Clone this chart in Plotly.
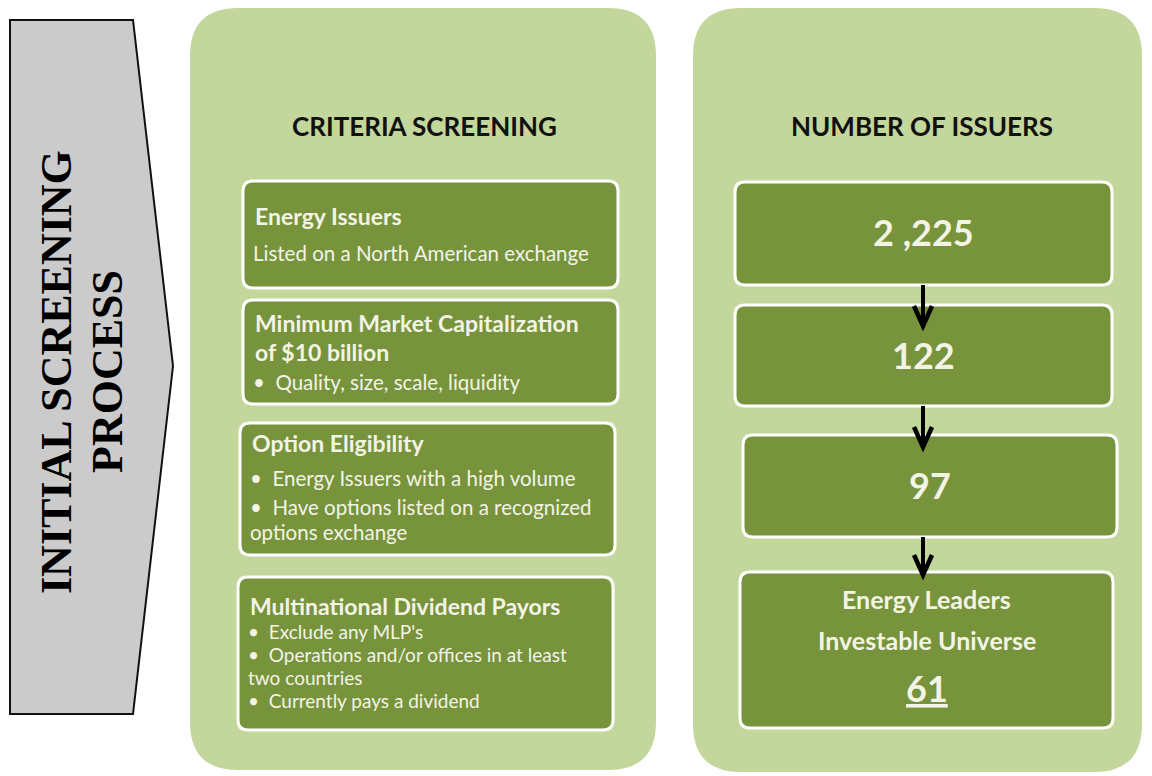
import plotly.graph_objects as go

# --- content -------------------------------------------------------------
side_title = ["INITIAL SCREENING", "PROCESS"]
panel_titles = ["CRITERIA SCREENING", "NUMBER OF ISSUERS"]

criteria_headings = [
    ["Energy Issuers"],
    ["Minimum Market Capitalization", "of $10 billion"],
    ["Option Eligibility"],
    ["Multinational Dividend Payors"],
]
criteria_details = [
    ["Listed on a North American exchange"],
    ["\u2022  Quality, size, scale, liquidity"],
    ["\u2022  Energy Issuers with a high volume",
     "\u2022  Have options listed on a recognized",
     "options exchange"],
    ["\u2022  Exclude any MLP's",
     "\u2022  Operations and/or offices in at least",
     "two countries",
     "\u2022  Currently pays a dividend"],
]
issuer_counts = ["2 ,225", "122", "97", "61"]
final_label = ["Energy Leaders", "Investable Universe"]

# --- layout (pixel space, y downwards) -----------------------------------
W, H = 1152, 776
OFF = 8  # the page body has an 8px margin, shift the view to compensate
LIGHT = "#c3d69b"
DARK = "#77933c"
TXT = "#f3f3e6"
FONT = "Lato"

left_boxes = [(243, 181, 618, 288), (243, 300, 618, 404),
              (240, 423, 615, 555), (238, 577, 613, 730)]
heading_y = [[216], [323, 352], [443], [606]]
detail_y = [[253], [382], [478, 507, 532], [631, 654, 677, 700]]
detail_size = [20.5, 20.5, 20.5, 19]

right_boxes = [(735, 182, 1112, 285), (735, 305, 1112, 406),
               (743, 435, 1117, 537), (740, 572, 1113, 728)]
count_y = [232, 355, 485, 688]
label_y = [599, 640]
arrow_x = 923
arrow_spans = [(285, 326), (406, 447), (537, 575)]


def rrect(x0, y0, x1, y1, r):
    return (f"M{x0 + r},{y0} L{x1 - r},{y0} Q{x1},{y0} {x1},{y0 + r} "
            f"L{x1},{y1 - r} Q{x1},{y1} {x1 - r},{y1} L{x0 + r},{y1} "
            f"Q{x0},{y1} {x0},{y1 - r} L{x0},{y0 + r} Q{x0},{y0} {x0 + r},{y0} Z")


shapes = []
annotations = []

# grey chevron on the left
shapes.append(dict(type="path", path="M10,20 L133,20 L173,366 L133,714 L10,714 Z",
                   fillcolor="#cbcbcb", line=dict(color="#111111", width=2)))
for text, x in zip(side_title, [56, 107]):
    annotations.append(dict(x=x, y=372, text=f"<b>{text}</b>", textangle=-90,
                            showarrow=False, xanchor="center", yanchor="middle",
                            font=dict(family="Liberation Serif", size=44, color="#000000")))

# big light panels
shapes.append(dict(type="path", path=rrect(190, 8, 656, 770, 48),
                   fillcolor=LIGHT, line=dict(width=0), layer="below"))
shapes.append(dict(type="path", path=rrect(693, 8, 1142, 772, 48),
                   fillcolor=LIGHT, line=dict(width=0), layer="below"))
for text, x in zip(panel_titles, [424, 922]):
    annotations.append(dict(x=x, y=126, text=f"<b>{text}</b>", showarrow=False,
                            xanchor="center", yanchor="middle",
                            font=dict(family=FONT, size=26, color="#111111")))

# criteria boxes
for box, heads, dets, hy, dy, ds in zip(left_boxes, criteria_headings, criteria_details,
                                        heading_y, detail_y, detail_size):
    x0, y0, x1, y1 = box
    shapes.append(dict(type="path", path=rrect(x0, y0, x1, y1, 10),
                       fillcolor=DARK, line=dict(color="white", width=3)))
    for t, y in zip(heads, hy):
        annotations.append(dict(x=x0 + 10, y=y, text=f"<b>{t}</b>", showarrow=False,
                                xanchor="left", yanchor="middle",
                                font=dict(family=FONT, size=23, color=TXT)))
    for t, y in zip(dets, dy):
        annotations.append(dict(x=x0 + 8, y=y, text=t, showarrow=False,
                                xanchor="left", yanchor="middle",
                                font=dict(family=FONT, size=ds, color=TXT)))

# issuer count boxes
for i, (box, cnt, y) in enumerate(zip(right_boxes, issuer_counts, count_y)):
    x0, y0, x1, y1 = box
    shapes.append(dict(type="path", path=rrect(x0, y0, x1, y1, 10),
                       fillcolor=DARK, line=dict(color="white", width=3)))
    txt = f"<b><u>{cnt}</u></b>" if i == len(issuer_counts) - 1 else f"<b>{cnt}</b>"
    annotations.append(dict(x=(x0 + x1) / 2, y=y, text=txt, showarrow=False,
                            xanchor="center", yanchor="middle",
                            font=dict(family=FONT, size=36, color=TXT)))
fx0, _, fx1, _ = right_boxes[-1]
for t, y in zip(final_label, label_y):
    annotations.append(dict(x=(fx0 + fx1) / 2, y=y, text=f"<b>{t}</b>", showarrow=False,
                            xanchor="center", yanchor="middle",
                            font=dict(family=FONT, size=25, color=TXT)))

# down arrows between counts
for ya, yb in arrow_spans:
    shapes.append(dict(type="line", x0=arrow_x, x1=arrow_x, y0=ya, y1=yb - 2,
                       line=dict(color="black", width=4)))
    shapes.append(dict(type="path",
                       path=f"M{arrow_x - 9},{yb - 20} L{arrow_x},{yb} L{arrow_x + 9},{yb - 20}",
                       line=dict(color="black", width=4.5)))

fig = go.Figure()
fig.update_layout(
    width=W, height=H,
    margin=dict(l=0, r=0, t=0, b=0),
    paper_bgcolor="white", plot_bgcolor="white",
    xaxis=dict(range=[OFF, W + OFF], visible=False, fixedrange=True),
    yaxis=dict(range=[H + OFF, OFF], visible=False, fixedrange=True),
    shapes=shapes, annotations=annotations, showlegend=False,
)
fig.write_html("out.html")
